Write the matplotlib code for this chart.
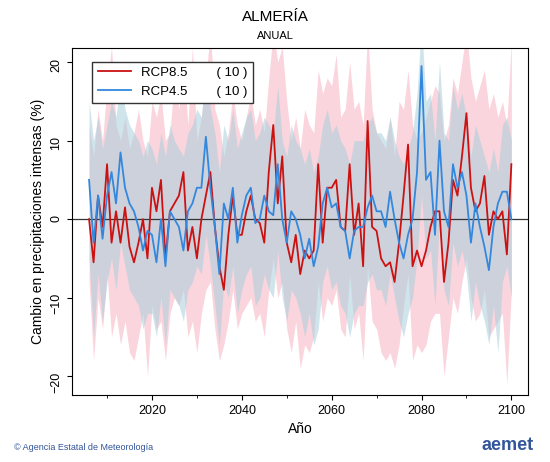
import numpy as np
import matplotlib.pyplot as plt

plt.rcParams['font.family'] = ['Liberation Sans', 'DejaVu Sans']

rcp85 = [0, -5.5, 3, -1, 7, -3, 1, -3, 1.5, -3.5,
         -5.5, -3, 0, -5, 4, 1, 5, -5, 1, 2,
         3, 6, -4, -1, -5, 0, 3, 6, -1, -6,
         -9, -2, 3, -2, -2, 1, 3, 0, -0.5, -3,
         6, 12, 2, 8, -3, -5.5, -2, -7, -4, -5,
         -4, 7, -3, 4, 4, 5, -1, -1.5, 7, -2,
         2, -6, 12.5, -1, -1.5, -5, -6, -5.5, -8, -3,
         3, 9.5, -6, -4, -6, -4, -1, 1, 1, -8,
         -3, 5, 3, 8, 13.5, 4, 1, 2, 5.5, -2,
         1, 0, 1, -4.5, 7]
rcp45 = [5, -3, 3, -2.5, 3, 6, 2, 8.5, 4, 2,
         1, -1, -4, -1.5, -2, -5.5, 0, -6, 1, 0,
         -1, -4, 1, 2, 4, 4, 10.5, 4, -1, -7,
         2, 0, 4, -3, 0.5, 3, 4, -0.5, 0, 3,
         1, 0.5, 7, 0, -3, 1, 0, -2, -5, -2.5,
         -6, -3.5, 2, 4, 1.5, 2, -1, -1.5, -5, -1.5,
         -1, -1, 1.5, 3, 1, 1, -1, 3.5, 0, -3,
         -5, -2, 0, 6, 19.5, 5, 6, -2, 10, 1,
         -1, 7, 4, 6, 3, -3, 2, -1, -3.5, -6.5,
         -1, 2, 3.5, 3.5, 0]
rcp85_hi = [12, 8, 14, 10, 17, 22, 12, 10, 13, 9,
            11, 14, 10, 8, 15, 13, 16, 10, 11, 18,
            14, 20, 12, 22, 10, 13, 18, 24, 14, 12,
            8, 11, 16, 12, 10, 13, 16, 12, 14, 11,
            18, 24, 20, 22, 15, 10, 13, 9, 14, 12,
            11, 19, 16, 18, 17, 21, 13, 14, 20, 14,
            15, 12, 24, 14, 11, 10, 9, 13, 8, 15,
            14, 19, 12, 10, 11, 13, 15, 17, 16, 10,
            12, 18, 16, 20, 24, 18, 15, 17, 19, 14,
            16, 13, 15, 12, 23]
rcp85_lo = [-8, -18, -10, -14, -7, -15, -12, -16, -13, -17,
            -18, -15, -12, -20, -11, -14, -13, -18, -12, -10,
            -11, -9, -15, -13, -17, -12, -9, -8, -14, -18,
            -16, -13, -9, -14, -12, -11, -10, -13, -12, -15,
            -9, -5, -10, -8, -14, -17, -13, -19, -16, -17,
            -15, -8, -13, -10, -11, -9, -14, -15, -7, -14,
            -12, -18, -6, -13, -14, -17, -18, -17, -19, -16,
            -11, -7, -18, -16, -17, -16, -13, -12, -12, -20,
            -15, -10, -12, -8, -5, -10, -13, -12, -9, -15,
            -14, -13, -12, -21, -9]
rcp45_hi = [15, 10, 13, 9, 12, 15, 13, 18, 14, 12,
            11, 10, 8, 10, 9, 7, 11, 8, 12, 10,
            9, 8, 11, 12, 14, 13, 20, 14, 11, 6,
            12, 10, 14, 9, 11, 13, 14, 10, 11, 13,
            12, 11, 17, 10, 8, 12, 10, 9, 7, 9,
            6, 8, 12, 14, 11, 12, 10, 9, 7, 10,
            10, 10, 12, 13, 11, 11, 10, 13, 10, 8,
            7, 9, 11, 16, 25, 15, 16, 10, 20, 11,
            10, 17, 14, 16, 13, 8, 12, 10, 8, 6,
            9, 6, 12, 13, 10]
rcp45_lo = [-5, -15, -7, -13, -8, -5, -9, -3, -6, -9,
            -10, -11, -14, -12, -12, -15, -10, -16, -9, -10,
            -11, -13, -9, -8, -6, -7, -2, -6, -11, -16,
            -8, -10, -6, -12, -9, -7, -6, -11, -10, -7,
            -9, -10, -4, -10, -13, -9, -10, -12, -15, -12,
            -16, -14, -8, -6, -9, -8, -11, -12, -15, -12,
            -11, -11, -8, -7, -9, -9, -11, -7, -10, -13,
            -15, -12, -10, -5, 3, -5, -4, -11, 0, -9,
            -11, -3, -6, -4, -7, -13, -8, -11, -13, -16,
            -11, -17, -8, -6, -10]
years = np.arange(2006, 2006 + len(rcp85))

fig = plt.figure(figsize=(5.5, 4.62), dpi=100)
ax = fig.add_axes([72/550, 67/462, 456/550, 347/462])

ax.fill_between(years, rcp85_lo, rcp85_hi, color='#f9c4cf', alpha=0.7, lw=0)
ax.fill_between(years, rcp45_lo, rcp45_hi, color='#a9cfdc', alpha=0.55, lw=0)
ax.axhline(0, color='#333333', lw=0.9)
ax.plot(years, rcp85, color='#cc1111', lw=1.3, label='RCP8.5')
ax.plot(years, rcp45, color='#3388dd', lw=1.3, label='RCP4.5')

ax.set_xlim(2002.2, 2103.7)
ax.set_ylim(-22.4, 21.8)
ax.set_xticks([2020, 2040, 2060, 2080, 2100])
ax.set_xticks(np.arange(2010, 2101, 10), minor=True)
ax.set_yticks([-20, -10, 0, 10, 20])
ax.tick_params(labelsize=9, direction='out')
ax.tick_params(axis='y', labelrotation=90)
ax.set_xlabel('Año', fontsize=10)
ax.set_ylabel('Cambio en precipitaciones intensas (%)', fontsize=10)

leg = ax.legend(loc='upper left', bbox_to_anchor=(0.03, 0.98), fontsize=9.5, fancybox=False,
                edgecolor='#333333', framealpha=1, handlelength=2.5)
for t in leg.get_texts():
    t.set_text(t.get_text() + '        ( 10 )')

fig.text(0.5, 0.955, 'ALMERÍA', ha='center', fontsize=11)
fig.text(0.5, 0.915, 'ANUAL', ha='center', fontsize=8)
fig.text(0.025, 0.025, '© Agencia Estatal de Meteorología', fontsize=6.5, color='#335599')
fig.text(0.97, 0.025, 'aemet', ha='right', fontsize=13, fontweight='bold', color='#335599')

fig.savefig('out.png', dpi=100)
